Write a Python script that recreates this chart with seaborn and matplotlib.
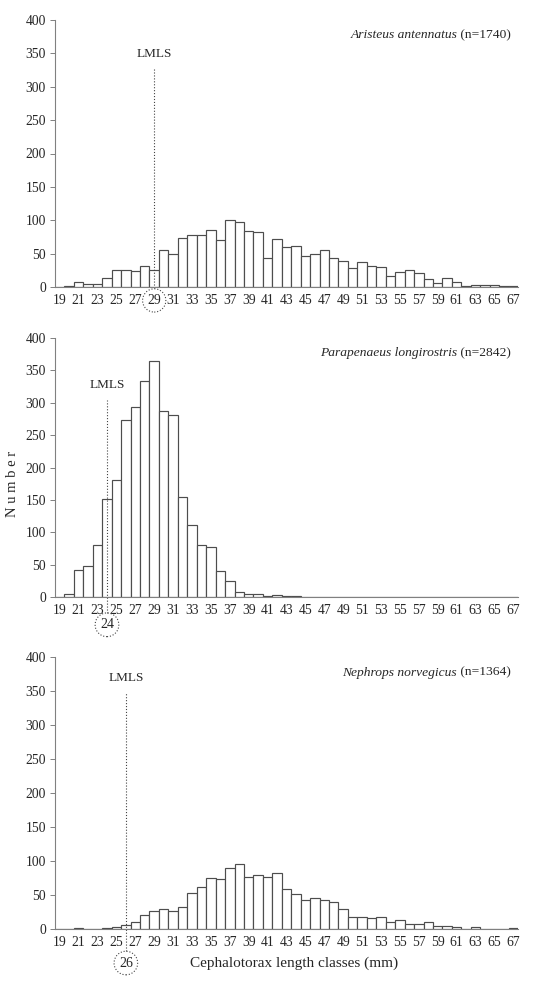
import numpy as np
import pandas as pd
import seaborn as sns
import matplotlib
matplotlib.use("Agg")
from matplotlib import pyplot as plt

# length classes (mm)
classes = list(range(19, 68))

aristeus = [0, 2, 7, 4, 4, 13, 26, 25, 24, 31, 25, 55, 49, 74, 78, 78, 85, 70, 100, 98,
            84, 83, 43, 72, 60, 62, 46, 50, 56, 44, 39, 29, 38, 31, 30, 17, 22, 26, 21, 12,
            6, 13, 7, 2, 3, 3, 3, 2, 2]
parapenaeus = [0, 4, 42, 48, 81, 152, 181, 273, 293, 333, 364, 287, 281, 155, 111, 80, 77, 40, 25, 7,
               4, 5, 2, 3, 1, 1, 0, 0, 0, 0, 0, 0, 0, 0, 0, 0, 0, 0, 0, 0,
               0, 0, 0, 0, 0, 0, 0, 0, 0]
nephrops = [0, 0, 1, 0, 0, 2, 3, 6, 11, 20, 27, 30, 26, 32, 53, 62, 75, 73, 89, 95,
            77, 80, 77, 83, 59, 52, 42, 46, 42, 40, 30, 18, 18, 16, 18, 11, 13, 7, 7, 10,
            5, 5, 3, 0, 3, 0, 0, 0, 2]

species = ["Aristeus antennatus", "Parapenaeus longirostris", "Nephrops norvegicus"]
n_totals = [1740, 2842, 1364]
lmls = [29, 24, 26]

sns.set_style("white")
plt.rcParams['font.family'] = ['Liberation Serif', 'DejaVu Serif']

fig = plt.figure(figsize=(5.46, 9.81), dpi=100)
W, H = 546, 981
# axes boxes in pixels: (left, top, right, bottom)
boxes = [(55, 20, 518, 287), (55, 338, 518, 597), (55, 657, 518, 929)]
# (line top, text bottom, line bottom, circled label offset in points)
lm_style = [(328, 340, -2, None), (304, 318, -25, 20), (349, 360, -32, 24.5)]

grey = "#808080"
for i, (vals, name, n, lm) in enumerate(zip([aristeus, parapenaeus, nephrops], species, n_totals, lmls)):
    l, t, r, b = boxes[i]
    ax = fig.add_axes([l / W, 1 - b / H, (r - l) / W, (b - t) / H])
    df = pd.DataFrame({"cls": [str(c) for c in classes], "num": vals})
    sns.barplot(data=df, x="cls", y="num", color="white", edgecolor="#4d4d4d",
                linewidth=0.85, width=1.0, saturation=1, ax=ax)
    ax.set_xlim(-0.5, len(classes) - 0.5)
    ax.set_ylim(0, 400)
    ax.set_yticks(range(0, 401, 50))
    ax.set_xlabel("")
    ax.set_ylabel("")
    ax.set_xticks(range(0, len(classes), 2))
    ax.set_xticklabels([str(c) for c in classes[::2]])
    ax.set_xticks(np.arange(-0.5, len(classes), 1), minor=True)
    ax.tick_params(axis="x", which="major", length=0, labelsize=9.8, pad=5)
    ax.tick_params(axis="x", which="minor", length=3.5, color=grey, width=0.7, direction="out")
    ax.tick_params(axis="y", length=3.5, color=grey, width=0.7, labelsize=9.8, pad=3, left=True, direction="out")
    for s in ["top", "right"]:
        ax.spines[s].set_visible(False)
    for s in ["left", "bottom"]:
        ax.spines[s].set_color(grey)
        ax.spines[s].set_linewidth(0.8)

    # species label
    t1 = ax.text(0.985, 0.965, " (n=%d)" % n, transform=ax.transAxes, ha="right", va="top", fontsize=9.7)
    ax.annotate(name, xy=(0, 0), xycoords=t1, ha="right", va="bottom", fontsize=9.7, style="italic")

    # LMLS marker
    xi = classes.index(lm)
    top, txt_y, low, off = lm_style[i]
    ax.plot([xi, xi], [low, top], ls=":", color="#444444", lw=0.8, clip_on=False)
    ax.text(xi, txt_y, "LMLS", ha="center", va="bottom", fontsize=9.5)
    circ = dict(boxstyle="circle,pad=0.35", fc="none", ec="#444444", ls=":", lw=0.8)
    if off is None:
        for lbl in ax.get_xticklabels():
            if lbl.get_text() == str(lm):
                lbl.set_bbox(circ)
    else:
        ax.annotate(str(lm), xy=(xi, 0), xytext=(0, -off), textcoords="offset points",
                    ha="center", va="center", fontsize=10, bbox=circ, annotation_clip=False)

fig.text(12 / W, 1 - 484 / H, "N u m b e r", rotation=90, ha="center", va="center", fontsize=10.5)
fig.text(294 / W, 1 - 963 / H, "Cephalotorax length classes (mm)", ha="center", va="center", fontsize=11)

fig.savefig("out.png", dpi=100)
